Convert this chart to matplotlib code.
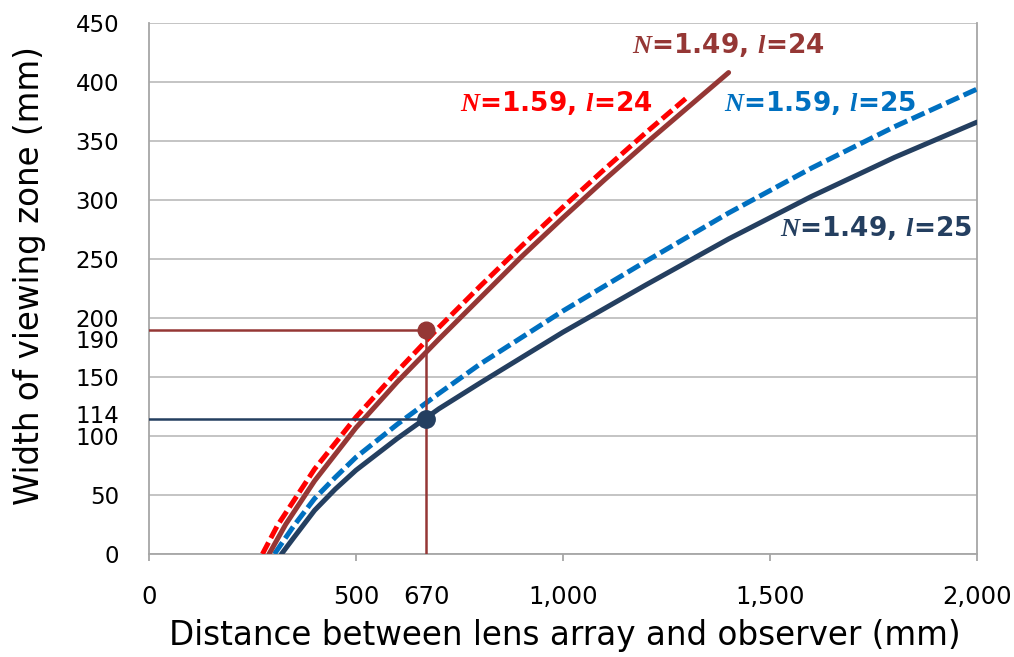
import matplotlib
matplotlib.use("Agg")
import matplotlib.pyplot as plt
from matplotlib import transforms

# Width of the viewing zone versus observer distance, one curve per lens setting
distance_n149_l24 = [290, 330, 400, 500, 600, 700, 800, 900, 1000, 1100, 1200, 1300, 1400]
width_n149_l24 = [0, 25, 62, 107, 146, 182, 217, 252, 285, 317, 348, 378, 408]

distance_n159_l24 = [274, 310, 400, 500, 600, 700, 800, 900, 1000, 1100, 1200, 1300]
width_n159_l24 = [0, 24, 72, 116, 155, 192, 227, 261, 294, 326, 357, 387]

distance_n159_l25 = [303, 350, 400, 450, 500, 600, 700, 800, 1000, 1200, 1400, 1600, 1800, 2000]
width_n159_l25 = [0, 24, 47, 65, 82, 110, 136, 161, 206, 248, 289, 327, 362, 394]

distance_n149_l25 = [320, 350, 400, 450, 500, 600, 700, 800, 1000, 1200, 1400, 1600, 1800, 2000]
width_n149_l25 = [0, 14, 37, 55, 71, 98, 123, 145, 188, 228, 267, 303, 336, 366]

design_distance = 670
design_width_l24 = 190
design_width_l25 = 114

x_ticks = [0, 500, 1000, 1500, 2000]
x_tick_labels = ["0", "500", "1,000", "1,500", "2,000"]
y_ticks = [0, 50, 100, 150, 200, 250, 300, 350, 400, 450]
y_extra_ticks = [design_width_l25, design_width_l24]

series_labels = [r"$N$=1.49, $l$=24", r"$N$=1.59, $l$=24",
                 r"$N$=1.59, $l$=25", r"$N$=1.49, $l$=25"]

BROWN = "#953735"
RED = "#FF0000"
BLUE = "#0070C0"
NAVY = "#243F60"
GRID = "#BFBFBF"

plt.rcParams["font.family"] = ["DejaVu Sans"]
plt.rcParams["mathtext.fontset"] = "custom"
plt.rcParams["mathtext.it"] = "Liberation Serif:italic:bold"
plt.rcParams["mathtext.rm"] = "DejaVu Sans:bold"

fig = plt.figure(figsize=(10.14, 6.57), dpi=100)
ax = fig.add_axes([149 / 1014, 1 - 554 / 657, 828 / 1014, 531 / 657])

ax.set_xlim(0, 2000)
ax.set_ylim(0, 450)

# Gridlines and frame
ax.grid(axis="y", which="major", color=GRID, linewidth=1.3, zorder=0)
ax.set_axisbelow(True)
for side in ("left", "right", "bottom"):
    ax.spines[side].set_color("#A6A6A6")
    ax.spines[side].set_linewidth(1.3)
ax.spines["top"].set_visible(False)

# Curves
curve_lw = 3.6
ax.plot(distance_n149_l25, width_n149_l25, color=NAVY, lw=curve_lw,
        solid_capstyle="round", solid_joinstyle="round", zorder=3)
ax.plot(distance_n159_l25, width_n159_l25, color=BLUE, lw=curve_lw,
        linestyle=(0, (2.8, 1.0)), zorder=3)
ax.plot(distance_n149_l24, width_n149_l24, color=BROWN, lw=curve_lw,
        solid_capstyle="round", solid_joinstyle="round", zorder=3)
ax.plot(distance_n159_l24, width_n159_l24, color=RED, lw=curve_lw,
        linestyle=(0, (2.6, 1.0)), zorder=3)

# Read-off lines for the design distance
ax.plot([0, design_distance], [design_width_l24, design_width_l24],
        color=BROWN, lw=1.8, zorder=4)
ax.plot([0, design_distance], [design_width_l25, design_width_l25],
        color=NAVY, lw=1.8, zorder=4)
ax.plot([design_distance, design_distance], [design_width_l24, 0],
        color=BROWN, lw=1.8, zorder=5)
ax.plot([design_distance], [design_width_l24], "o", color=BROWN,
        markersize=12, zorder=6)
ax.plot([design_distance], [design_width_l25], "o", color=NAVY,
        markersize=12.5, zorder=6)

# Curve labels
label_kw = dict(fontsize=19, fontweight="bold", ha="center", va="center", zorder=7)
ax.text(1398, 431, series_labels[0], color=BROWN, **label_kw)
ax.text(983, 382, series_labels[1], color=RED, **label_kw)
ax.text(1620, 382, series_labels[2], color=BLUE, **label_kw)
ax.text(1756, 276, series_labels[3], color=NAVY, **label_kw)

# X axis ticks: marks at the round values, extra label at the design distance
ax.set_xticks(x_ticks)
ax.set_xticklabels(x_tick_labels)
ax.set_xticks([design_distance], minor=True)
ax.set_xticklabels([str(design_distance)], minor=True)
ax.tick_params(axis="x", which="major", direction="out", length=5, width=1.3,
               color="#A6A6A6", pad=17, labelsize=17.5)
ax.tick_params(axis="x", which="minor", length=0, pad=22, labelsize=17.5)

# Y axis ticks
ax.set_yticks(y_ticks)
ax.set_yticklabels([str(v) for v in y_ticks])
ax.set_yticks(y_extra_ticks, minor=True)
ax.set_yticklabels([str(v) for v in y_extra_ticks], minor=True)
ax.tick_params(axis="y", which="both", length=0, pad=21.5, labelsize=16.5)

# keep the extra labels clear of their neighbours
shifts = {str(design_width_l24): -6.5, str(design_width_l25): 4.0}
for lab in ax.yaxis.get_minorticklabels():
    dy = shifts.get(lab.get_text(), 0.0)
    lab.set_transform(lab.get_transform() +
                      transforms.ScaledTranslation(0, dy / 72, fig.dpi_scale_trans))

ax.set_xlabel("Distance between lens array and observer (mm)", fontsize=23.5)
ax.set_ylabel("Width of viewing zone (mm)", fontsize=23.5)
ax.xaxis.set_label_coords(0.502, -0.122)
ax.yaxis.set_label_coords(-0.125, 0.525)

fig.savefig("out.png", dpi=100)
